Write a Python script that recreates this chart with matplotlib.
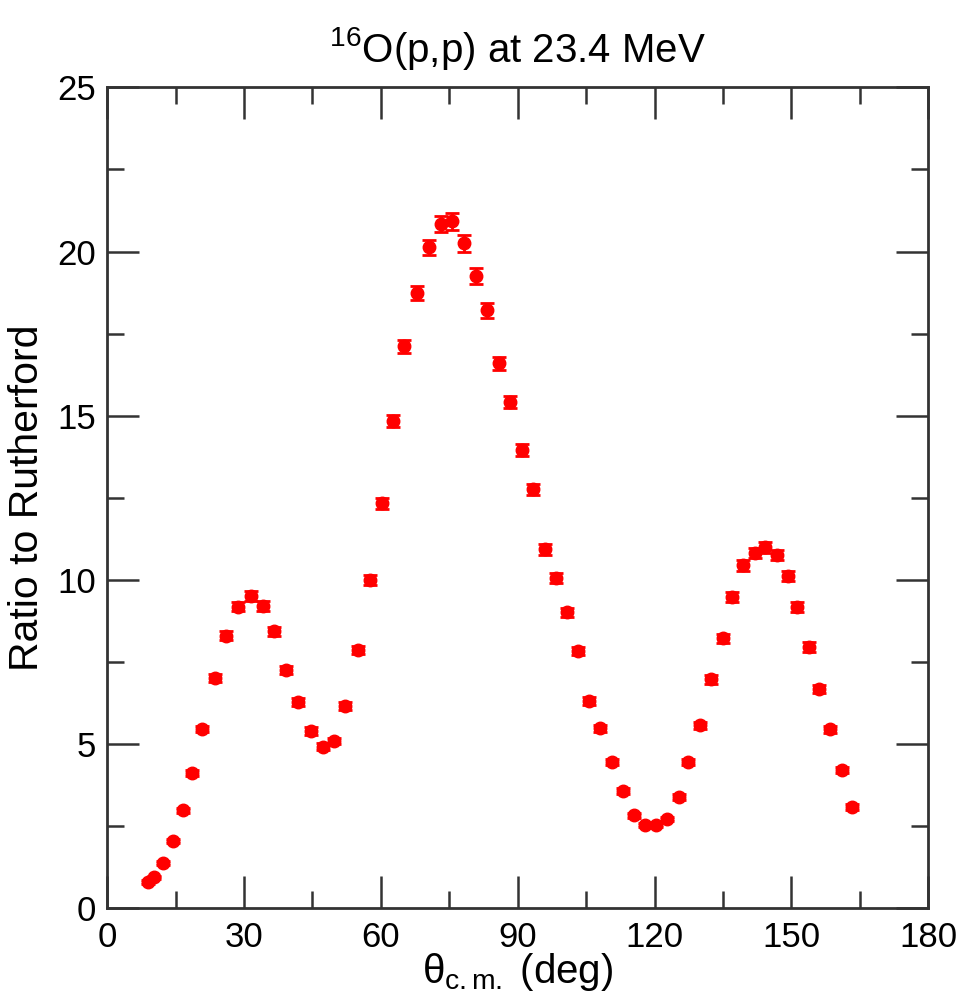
import numpy as np
import matplotlib.pyplot as plt
from matplotlib.ticker import MultipleLocator

plt.rcParams['font.family'] = ['Liberation Sans', 'DejaVu Sans']
plt.rcParams['mathtext.fontset'] = 'custom'
plt.rcParams['mathtext.rm'] = 'Liberation Sans'
plt.rcParams['mathtext.it'] = 'Liberation Sans:italic'

# 16O(p,p) 23.4 MeV, ratio to Rutherford
theta = [9.0, 10.3, 12.3, 14.5, 16.7, 18.6, 20.8, 23.7, 26.1, 28.7,
         31.6, 34.2, 36.6, 39.2, 41.9, 44.7, 47.4, 49.8, 52.2, 55.0,
         57.7, 60.3, 62.7, 65.1, 68.0, 70.6, 73.2, 75.6, 78.3, 80.9,
         83.3, 85.9, 88.4, 91.0, 93.4, 96.0, 98.4, 100.9, 103.3, 105.6,
         108.1, 110.7, 113.1, 115.5, 118.0, 120.4, 122.8, 125.4, 127.4, 130.0,
         132.4, 135.1, 137.0, 139.4, 142.1, 144.3, 146.9, 149.3, 151.3, 153.9,
         156.1, 158.5, 161.1, 163.3]
ratio = [0.79, 0.94, 1.37, 2.04, 2.98, 4.11, 5.45, 7.02, 8.30, 9.18,
         9.50, 9.20, 8.43, 7.25, 6.27, 5.39, 4.92, 5.09, 6.15, 7.86,
         10.0, 12.33, 14.83, 17.11, 18.73, 20.13, 20.84, 20.92, 20.25, 19.25,
         18.21, 16.6, 15.41, 13.95, 12.76, 10.93, 10.05, 9.01, 7.83, 6.32,
         5.48, 4.45, 3.56, 2.83, 2.53, 2.53, 2.71, 3.38, 4.45, 5.57,
         6.97, 8.22, 9.47, 10.44, 10.81, 10.99, 10.75, 10.11, 9.17, 7.95,
         6.67, 5.45, 4.20, 3.08]
err = [0.05, 0.05, 0.06, 0.07, 0.08, 0.09, 0.10, 0.12, 0.13, 0.14,
       0.15, 0.14, 0.14, 0.13, 0.12, 0.11, 0.10, 0.10, 0.12, 0.13,
       0.15, 0.17, 0.18, 0.20, 0.21, 0.23, 0.24, 0.25, 0.25, 0.24,
       0.22, 0.20, 0.19, 0.18, 0.17, 0.16, 0.15, 0.14, 0.13, 0.12,
       0.11, 0.10, 0.09, 0.08, 0.07, 0.07, 0.07, 0.08, 0.10, 0.11,
       0.13, 0.14, 0.15, 0.16, 0.16, 0.17, 0.16, 0.16, 0.15, 0.14,
       0.12, 0.11, 0.10, 0.09]

fig = plt.figure(figsize=(9.57, 10.05), dpi=100)
ax = fig.add_axes([0.112, 0.0965, 0.858, 0.8165])

ax.errorbar(theta, ratio, yerr=err, fmt='o', color='red', ms=9,
            ecolor='red', elinewidth=2, capsize=5, capthick=2)

ax.set_xlim(0, 180)
ax.set_ylim(0, 25)
ax.xaxis.set_major_locator(MultipleLocator(30))
ax.xaxis.set_minor_locator(MultipleLocator(15))
ax.yaxis.set_major_locator(MultipleLocator(5))
ax.yaxis.set_minor_locator(MultipleLocator(2.5))
ax.tick_params(which='both', direction='in', top=True, right=True,
               width=1.8, color='#333333', labelsize=25)
ax.tick_params(axis='x', which='major', length=23, pad=9)
ax.tick_params(axis='y', which='major', length=23, pad=8)
ax.tick_params(which='minor', length=12)
for s in ax.spines.values():
    s.set_linewidth(2)
    s.set_color('#333333')

ax.set_xlabel(r"$\mathrm{\theta}_{\mathrm{c.m.}}$ (deg)", fontsize=29, labelpad=-2)
ax.set_ylabel("Ratio to Rutherford", fontsize=29.5, labelpad=8)
ax.set_title(r"$^{16}$O(p,p) at 23.4 MeV", fontsize=29, pad=18)

fig.savefig("out.png", dpi=100)
